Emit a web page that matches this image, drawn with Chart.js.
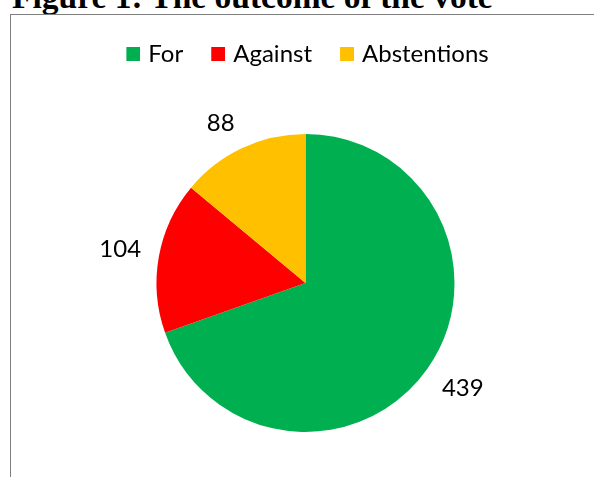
<!DOCTYPE html>
<html>
<head>
<meta charset="utf-8">
<script src="https://cdn.jsdelivr.net/npm/chart.js@4.4.1/dist/chart.umd.min.js"></script>
<style>
  html, body { margin: 0; padding: 0; background: #fff; }
  #page { position: relative; width: 594px; height: 477px; overflow: hidden; background: #fff; }
  #title {
    position: absolute; left: 12px; top: -20px; margin: 0;
    font-family: "Liberation Serif", serif; font-weight: bold; font-size: 33.5px;
    line-height: 33px; color: #000; white-space: nowrap;
  }
  #frame {
    position: absolute; left: 10px; top: 14px; width: 800px; height: 800px;
    border: 1px solid #7f7f7f; box-sizing: border-box;
  }
  #chart { position: absolute; left: 0; top: 0; }
</style>
</head>
<body>
<div id="page">
  <div id="title">Figure 1: The outcome of the vote</div>
  <div id="frame"></div>
  <canvas id="chart" width="594" height="500"></canvas>
</div>
<script>
const categories = ['For', 'Against', 'Abstentions'];
const votes = [439, 104, 88];
const sliceColors = ['#00B050', '#FF0000', '#FFC000'];

const FONT_FAMILY = 'Lato, "Open Sans", sans-serif';
const FONT_SIZE = 24;

// legend swatch: 14x14 square drawn on the right part of a wider transparent image
function makeSwatch(color) {
  const c = document.createElement('canvas');
  c.width = 22; c.height = 14;
  const g = c.getContext('2d');
  g.fillStyle = color;
  g.fillRect(8, 0, 14, 14);
  return c;
}

const outsideLabels = {
  id: 'outsideLabels',
  afterDatasetsDraw(chart) {
    const ctx = chart.ctx;
    const meta = chart.getDatasetMeta(0);
    const data = chart.data.datasets[0].data;
    ctx.save();
    ctx.font = FONT_SIZE + 'px ' + FONT_FAMILY;
    ctx.fillStyle = '#000';
    ctx.textAlign = 'center';
    ctx.textBaseline = 'middle';
    const h = 18;
    const clamp = v => Math.max(-1, Math.min(1, v));
    meta.data.forEach((arc, i) => {
      const p = arc.getProps(['x', 'y', 'startAngle', 'endAngle', 'outerRadius'], true);
      const mid = (p.startAngle + p.endAngle) / 2;
      const R = p.outerRadius + 18;
      const txt = String(data[i]);
      const w = ctx.measureText(txt).width;
      const ax = p.x + Math.cos(mid) * R;
      const ay = p.y + Math.sin(mid) * R;
      const cx = ax + clamp(Math.cos(mid) * 3) * w / 2;
      const cy = ay + clamp(Math.sin(mid) * 3) * h / 2;
      ctx.fillText(txt, cx, cy);
    });
    ctx.restore();
  }
};

new Chart(document.getElementById('chart'), {
  type: 'pie',
  data: {
    labels: categories,
    datasets: [{
      data: votes,
      backgroundColor: sliceColors,
      borderWidth: 0,
      radius: 149
    }]
  },
  options: {
    responsive: false,
    animation: false,
    layout: { padding: { top: 18, left: 30, right: 13, bottom: 10 } },
    plugins: {
      legend: {
        position: 'top',
        labels: {
          usePointStyle: true,
          pointStyleWidth: 14,
          boxWidth: 14,
          boxHeight: 14,
          padding: 24,
          color: '#000',
          font: { family: FONT_FAMILY, size: FONT_SIZE },
          generateLabels(chart) {
            const ds = chart.data.datasets[0];
            return chart.data.labels.map((label, i) => ({
              text: label,
              fillStyle: ds.backgroundColor[i],
              strokeStyle: ds.backgroundColor[i],
              lineWidth: 0,
              pointStyle: makeSwatch(ds.backgroundColor[i]),
              hidden: false,
              index: i
            }));
          }
        }
      },
      tooltip: { enabled: false }
    }
  },
  plugins: [outsideLabels]
});
</script>
</body>
</html>
